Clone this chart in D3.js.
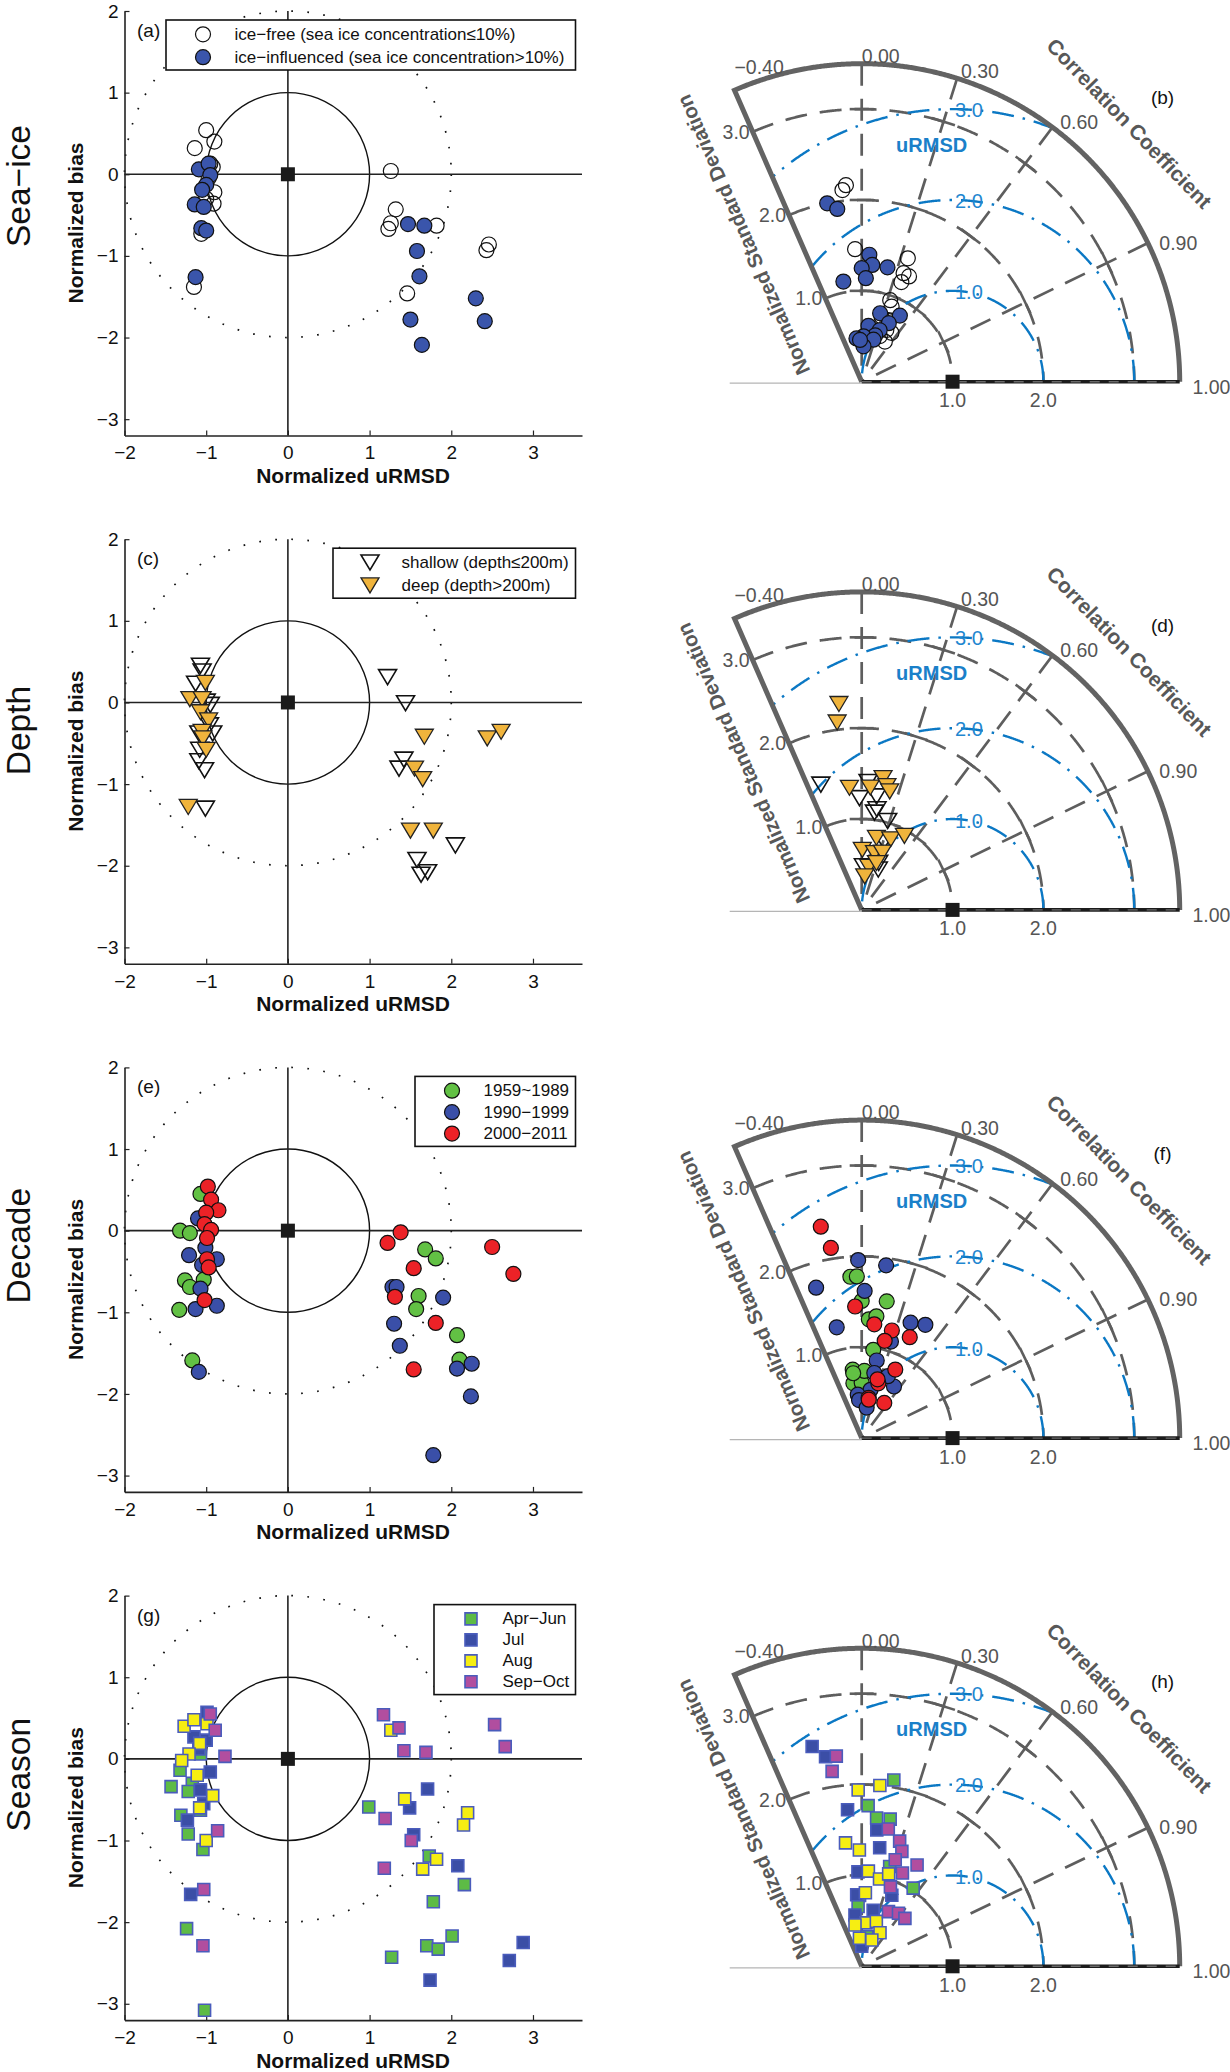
<!DOCTYPE html>
<html>
<head>
<meta charset="utf-8">
<script src="https://cdn.jsdelivr.net/npm/d3@7"></script>
<style>
  body { margin: 0; background: #fff; }
  text { font-family: "Liberation Sans", Arial, Helvetica, sans-serif; }
</style>
</head>
<body>
<svg id="fig" width="1230" height="2072"></svg>
<script>
// ---------------------------------------------------------------------------
// Data
// ---------------------------------------------------------------------------

const rowNames = ["Sea\u2212ice", "Depth", "Decade", "Season"];
const panelTags = [["(a)", "(b)"], ["(c)", "(d)"], ["(e)", "(f)"], ["(g)", "(h)"]];

// axis ticks
const urmsdTicks = [-2, -1, 0, 1, 2, 3];
const biasTicks = [-3, -2, -1, 0, 1, 2];
const corrTicks = [-0.4, 0, 0.3, 0.6, 0.9, 1.0];
const corrTickLabels = ["\u22120.40", "0.00", "0.30", "0.60", "0.90", "1.00"];
const stdTicks = [1, 2, 3];
const stdAxisTicks = [1, 2];
const rmsLevels = [1, 2, 3];

// legend labels
const seaIceLabels = ["ice\u2212free (sea ice concentration\u226410%)", "ice\u2212influenced (sea ice concentration>10%)"];
const depthLabels = ["shallow (depth\u2264200m)", "deep (depth>200m)"];
const decadeLabels = ["1959~1989", "1990\u22121999", "2000\u22122011"];
const seasonLabels = ["Apr\u2212Jun", "Jul", "Aug", "Sep\u2212Oct"];

// target diagrams: [normalized uRMSD, normalized bias]
const iceFreeTarget = [[-1.00,0.54],[-0.90,0.40],[-1.14,0.32],[-0.95,0.13],[-0.92,0.09],[-0.97,-0.05],[-0.90,-0.22],[-1.00,-0.30],[-0.91,-0.36],[-1.06,-0.73],[-1.15,-1.38],[1.26,0.04],[1.32,-0.43],[1.26,-0.60],[1.23,-0.67],[1.82,-0.63],[1.46,-1.46],[2.46,-0.86],[2.43,-0.93]];
const iceInfluencedTarget = [[-1.09,0.06],[-0.97,0.13],[-0.95,-0.01],[-1.00,-0.13],[-1.05,-0.19],[-1.14,-0.37],[-1.03,-0.40],[-1.06,-0.66],[-1.00,-0.69],[-1.13,-1.26],[1.47,-0.61],[1.67,-0.63],[1.58,-0.94],[1.61,-1.25],[1.50,-1.78],[1.64,-2.09],[2.30,-1.52],[2.41,-1.80]];

const shallowTarget = [[-1.07,0.45],[-1.05,0.38],[-1.13,0.23],[-1.00,0.01],[-0.95,-0.03],[-0.96,-0.28],[-0.92,-0.38],[-1.09,-0.38],[-1.08,-0.58],[-1.09,-0.72],[-1.02,-0.83],[-1.01,-1.30],[1.22,0.31],[1.44,-0.01],[1.42,-0.70],[1.36,-0.81],[2.05,-1.75],[1.58,-1.93],[1.63,-2.11],[1.71,-2.08]];
const deepTarget = [[-1.01,0.24],[-1.20,0.04],[-1.05,0.04],[-1.07,-0.12],[-0.97,-0.22],[-1.05,-0.36],[-1.04,-0.44],[-1.00,-0.58],[-1.22,-1.28],[1.67,-0.42],[2.44,-0.44],[2.61,-0.36],[1.55,-0.81],[1.65,-0.94],[1.50,-1.57],[1.78,-1.57]];

const decade1Target = [[-1.07,0.45],[-1.32,0.00],[-1.20,-0.03],[-1.26,-0.61],[-1.20,-0.69],[-1.03,-0.60],[-1.33,-0.97],[-1.17,-1.59],[1.68,-0.23],[1.81,-0.34],[1.60,-0.80],[1.57,-0.96],[2.07,-1.28],[2.10,-1.58]];
const decade2Target = [[-1.10,0.15],[-1.21,-0.30],[-1.01,-0.21],[-1.05,-0.42],[-0.87,-0.35],[-1.07,-0.71],[-1.13,-0.96],[-0.87,-0.92],[-1.09,-1.73],[1.28,-0.69],[1.33,-0.69],[1.90,-0.82],[1.30,-1.14],[1.37,-1.41],[2.07,-1.69],[2.25,-1.63],[2.24,-2.03],[1.78,-2.75]];
const decade3Target = [[-0.98,0.54],[-0.94,0.38],[-0.85,0.25],[-1.00,0.22],[-1.02,0.08],[-0.94,0.01],[-0.99,-0.09],[-0.99,-0.35],[-0.97,-0.45],[-1.02,-0.85],[1.38,-0.02],[1.22,-0.15],[1.54,-0.46],[1.31,-0.81],[1.81,-1.13],[1.54,-1.70],[2.50,-0.20],[2.76,-0.53]];

const aprJunTarget = [[-1.32,-0.14],[-1.43,-0.34],[-1.17,-0.30],[-1.22,-0.40],[-1.07,-0.63],[-1.31,-0.69],[-1.22,-0.92],[-1.04,-1.11],[-1.24,-2.08],[-1.02,-3.08],[-1.07,0.06],[0.99,-0.59],[1.73,-1.19],[2.16,-1.54],[1.78,-1.75],[2.01,-2.17],[1.70,-2.29],[1.84,-2.33],[1.27,-2.43]];
const julTarget = [[-0.99,0.57],[-1.15,0.27],[-1.00,0.23],[-1.09,0.12],[-0.95,-0.16],[-1.07,-0.38],[-1.03,-0.55],[-1.23,-0.75],[-1.19,-1.66],[1.71,-0.37],[1.49,-0.60],[1.54,-0.93],[2.08,-1.31],[2.88,-2.25],[2.71,-2.47],[1.74,-2.71]];
const augTarget = [[-1.27,0.40],[-1.15,0.48],[-0.99,0.43],[-1.08,0.19],[-1.21,0.06],[-1.30,-0.02],[-1.11,-0.20],[-0.92,-0.45],[-1.08,-0.60],[-1.00,-1.00],[1.26,0.35],[1.43,-0.49],[2.20,-0.66],[2.15,-0.81],[1.82,-1.23],[1.65,-1.35]];
const sepOctTarget = [[-0.95,0.55],[-0.89,0.35],[-0.77,0.03],[-0.86,-0.88],[-1.03,-1.60],[-1.04,-2.29],[1.17,0.54],[1.36,0.38],[1.42,0.10],[1.69,0.08],[1.19,-0.73],[1.51,-1.00],[1.18,-1.34],[2.53,0.42],[2.66,0.15]];

// Taylor diagrams: [normalized standard deviation, correlation coefficient]
const iceFreeTaylor = [[2.12,-0.10],[2.17,-0.08],[1.46,-0.05],[1.45,0.35],[1.28,0.36],[1.27,0.41],[1.18,0.37],[0.95,0.33],[0.89,0.37],[0.75,0.29],[0.74,0.40],[0.63,0.43],[0.63,0.52],[0.51,0.50],[0.54,0.37]];
const iceInfluencedTaylor = [[2.00,-0.19],[1.92,-0.14],[1.40,0.06],[1.29,0.09],[1.25,0.00],[1.29,0.22],[1.14,0.04],[1.12,-0.18],[0.78,0.26],[0.84,0.50],[0.71,0.42],[0.62,0.12],[0.60,0.33],[0.53,0.28],[0.50,0.04],[0.48,0.27],[0.48,-0.12],[0.39,0.05],[0.46,-0.04]];

const shallowTaylor = [[1.45,-0.31],[1.23,-0.02],[1.41,0.05],[1.26,0.13],[1.12,0.15],[1.02,0.28],[1.08,0.13],[0.79,0.31],[0.55,0.34],[0.48,0.04],[0.48,0.38]];
const deepTaylor = [[2.28,-0.11],[2.08,-0.13],[1.35,-0.10],[1.35,0.07],[1.47,0.16],[1.39,0.20],[1.34,0.23],[0.81,0.20],[0.84,0.38],[0.94,0.50],[0.66,0.01],[0.64,0.22],[0.67,0.34],[0.48,0.16],[0.54,0.30],[0.37,0.09]];

const decade1Taylor = [[1.78,-0.07],[1.78,-0.03],[1.51,0.00],[1.53,0.18],[1.31,0.06],[1.35,0.12],[0.98,0.13],[0.76,-0.13],[0.61,-0.15],[0.61,0.00],[0.74,0.04],[0.72,-0.13]];
const decade2Taylor = [[1.96,-0.02],[1.92,0.14],[1.73,-0.29],[1.62,0.02],[1.25,-0.22],[1.38,0.39],[1.43,0.49],[1.11,0.29],[0.87,0.19],[0.73,0.19],[0.67,0.53],[0.74,0.39],[0.54,0.18],[0.48,-0.09],[0.42,-0.07],[0.34,0.16]];
const decade3Taylor = [[2.37,-0.19],[2.12,-0.16],[1.45,-0.05],[1.26,0.11],[1.23,0.27],[1.10,0.23],[1.23,0.43],[0.63,0.29],[0.67,0.26],[0.84,0.44],[0.46,0.54],[0.45,0.17],[0.43,0.18]];

const aprJunTaylor = [[2.08,0.17],[1.77,0.04],[1.64,0.10],[1.65,0.19],[1.03,0.55],[0.78,-0.03],[0.66,-0.06],[0.33,0.17],[1.14,0.27]];
const julTaylor = [[2.48,-0.22],[2.34,-0.17],[1.73,-0.09],[1.32,0.15],[1.04,-0.04],[0.79,-0.07],[1.51,0.11],[0.57,-0.13],[0.22,0.00],[0.85,0.39],[0.63,0.20]];
const augTaylor = [[1.94,-0.02],[2.00,0.10],[1.37,-0.13],[1.28,-0.02],[1.05,0.07],[0.98,0.20],[1.06,0.28],[0.81,0.05],[0.48,0.10],[0.52,0.31],[0.46,-0.16],[0.42,0.48],[0.31,-0.08],[0.31,0.36]];
const sepOctTaylor = [[2.33,-0.12],[2.17,-0.15],[1.54,0.19],[1.44,0.29],[1.34,0.33],[1.23,0.30],[1.27,0.48],[1.12,0.40],[0.93,0.34],[0.67,0.44],[0.71,0.57],[0.71,0.67]];

// ---------------------------------------------------------------------------
// Marker shapes and row settings
// ---------------------------------------------------------------------------

const triangleDown = {
  draw(ctx) {
    ctx.moveTo(-9, -7.5);
    ctx.lineTo(9, -7.5);
    ctx.lineTo(0, 7.5);
    ctx.closePath();
  }
};

const shapes = {
  circle: d3.symbol(d3.symbolCircle, Math.PI * 7.5 * 7.5),
  triangle: d3.symbol(triangleDown),
  square: d3.symbol(d3.symbolSquare, 12 * 12)
};

const rows = [
  { shape: "circle", legendLeft: 166, groups: [
    { label: seaIceLabels[0], target: iceFreeTarget, taylor: iceFreeTaylor, fill: "none", stroke: "#111", sw: 1.2 },
    { label: seaIceLabels[1], target: iceInfluencedTarget, taylor: iceInfluencedTaylor, fill: "#3a55ab", stroke: "#111", sw: 1.2 }
  ]},
  { shape: "triangle", legendLeft: 333, groups: [
    { label: depthLabels[0], target: shallowTarget, taylor: shallowTaylor, fill: "none", stroke: "#111", sw: 1.6 },
    { label: depthLabels[1], target: deepTarget, taylor: deepTaylor, fill: "#f0b43c", stroke: "#222", sw: 1.3 }
  ]},
  { shape: "circle", legendLeft: 415, groups: [
    { label: decadeLabels[0], target: decade1Target, taylor: decade1Taylor, fill: "#62c144", stroke: "#111", sw: 1.2 },
    { label: decadeLabels[1], target: decade2Target, taylor: decade2Taylor, fill: "#3a4fa8", stroke: "#111", sw: 1.2 },
    { label: decadeLabels[2], target: decade3Target, taylor: decade3Taylor, fill: "#ec2227", stroke: "#111", sw: 1.2 }
  ]},
  { shape: "square", legendLeft: 434, groups: [
    { label: seasonLabels[0], target: aprJunTarget, taylor: aprJunTaylor, fill: "#5dbb45", stroke: "#4a5cbc", sw: 1.6 },
    { label: seasonLabels[1], target: julTarget, taylor: julTaylor, fill: "#3b4ea6", stroke: "#4a5cbc", sw: 1.6 },
    { label: seasonLabels[2], target: augTarget, taylor: augTaylor, fill: "#f6ee12", stroke: "#4a5cbc", sw: 1.6 },
    { label: seasonLabels[3], target: sepOctTarget, taylor: sepOctTaylor, fill: "#b14e9f", stroke: "#4a5cbc", sw: 1.6 }
  ]}
];

const ROW_STEP = 528.2;
const GREY = "#5e5e5e";
const BLUE = "#0b78c4";

const svg = d3.select("#fig");

/**
 * Draw a set of markers
 */
function drawMarkers(g, pts, grp, shape, toXY)
{
  g.append("g").selectAll("path")
    .data(pts)
    .join("path")
    .attr("transform", d => `translate(${toXY(d)})`)
    .attr("d", shapes[shape]())
    .attr("fill", grp.fill)
    .attr("stroke", grp.stroke)
    .attr("stroke-width", grp.sw);
}

/**
 * Target diagram (normalized uRMSD vs normalized bias)
 */
function drawTarget(g, row, i)
{
  const x = d3.scaleLinear([-2, 3.6], [124.5, 582]);
  const y = d3.scaleLinear([-3.2, 2], [435.5, 11]);

  // row title
  g.append("text")
    .attr("transform", "translate(30,247) rotate(-90)")
    .attr("font-size", 33.5)
    .attr("fill", "#111")
    .text(rowNames[i]);

  // reference circles: dotted radius 2, solid radius 1
  g.append("ellipse")
    .attr("cx", x(0)).attr("cy", y(0))
    .attr("rx", x(2) - x(0)).attr("ry", y(0) - y(2))
    .attr("fill", "none").attr("stroke", "#111")
    .attr("stroke-width", 1.7).attr("stroke-dasharray", "1.7,14.4");
  g.append("ellipse")
    .attr("cx", x(0)).attr("cy", y(0))
    .attr("rx", x(1) - x(0)).attr("ry", y(0) - y(1))
    .attr("fill", "none").attr("stroke", "#111").attr("stroke-width", 1.4);

  // zero lines
  g.append("line")
    .attr("x1", x(0)).attr("x2", x(0)).attr("y1", y(-3.2)).attr("y2", y(2))
    .attr("stroke", "#222").attr("stroke-width", 1.6);
  g.append("line")
    .attr("x1", x(-2)).attr("x2", x(3.6)).attr("y1", y(0)).attr("y2", y(0))
    .attr("stroke", "#222").attr("stroke-width", 1.6);

  // axes
  const fmt = d3.format("d");
  const ax = g.append("g")
    .attr("transform", `translate(0,${y(-3.2)})`)
    .call(d3.axisBottom(x).tickValues(urmsdTicks).tickFormat(fmt)
      .tickSize(-5).tickSizeOuter(0).tickPadding(10.5));
  const ay = g.append("g")
    .attr("transform", `translate(${x(-2)},0)`)
    .call(d3.axisLeft(y).tickValues(biasTicks).tickFormat(fmt)
      .tickSize(-5).tickSizeOuter(0).tickPadding(6));
  [ax, ay].forEach(a => {
    a.attr("font-family", null).attr("font-size", 19);
    a.select(".domain").attr("stroke", "#222").attr("stroke-width", 1.6);
    a.selectAll(".tick line").attr("stroke", "#222").attr("stroke-width", 1.2);
    a.selectAll(".tick text").attr("fill", "#111");
  });

  // axis titles
  g.append("text")
    .attr("transform", "translate(83,223) rotate(-90)")
    .attr("text-anchor", "middle").attr("font-size", 21).attr("font-weight", "bold")
    .attr("fill", "#111")
    .text("Normalized bias");
  g.append("text")
    .attr("x", 353).attr("y", 483)
    .attr("text-anchor", "middle").attr("font-size", 21).attr("font-weight", "bold")
    .attr("fill", "#111")
    .text("Normalized uRMSD");

  // panel tag
  g.append("text")
    .attr("x", 137).attr("y", 37).attr("font-size", 19).attr("fill", "#111")
    .text(panelTags[i][0]);

  // data
  row.groups.forEach(grp => drawMarkers(g, grp.target, grp, row.shape, d => [x(d[0]), y(d[1])]));

  // reference point
  g.append("rect")
    .attr("x", x(0) - 7).attr("y", y(0) - 7).attr("width", 14).attr("height", 14)
    .attr("fill", "#1a1a1a");

  // legend
  const n = row.groups.length;
  const top = 20, h = 20 * n + 10, right = 575.5;
  const lg = g.append("g");
  lg.append("rect")
    .attr("x", row.legendLeft).attr("y", top)
    .attr("width", right - row.legendLeft).attr("height", h)
    .attr("fill", "#fff").attr("stroke", "#111").attr("stroke-width", 1.6);
  const ly = d3.scaleLinear([0, n - 1], [top + 14.3, top + h - 12.8]);
  row.groups.forEach((grp, j) => {
    drawMarkers(lg, [[row.legendLeft + 37, ly(j)]], grp, row.shape, d => d);
    lg.append("text")
      .attr("x", row.legendLeft + 68.5).attr("y", ly(j))
      .attr("dominant-baseline", "central")
      .attr("font-size", 17).attr("fill", "#111")
      .text(grp.label);
  });
}

/**
 * Taylor diagram (normalized standard deviation and correlation)
 */
function drawTaylor(g, row, i)
{
  const ox = 861.7, oy = 381.7, rMax = 3.5;
  const r = d3.scaleLinear([0, rMax], [0, 318]);
  const ang = c => Math.PI / 2 - Math.acos(c);          // angle from 12 o'clock
  const polar = (rad, a) => [ox + rad * Math.sin(a), oy - rad * Math.cos(a)];
  const toXY = ([sd, c]) => polar(r(sd), ang(c));
  const fromStd = (u, v) => [ox + r(u), oy - r(v)];

  const aMin = ang(corrTicks[0]);
  const sweep = d3.range(aMin, Math.PI / 2, 0.004).concat([Math.PI / 2]);
  const arc = rad => d3.line()(sweep.map(a => polar(rad, a)));

  // standard deviation arcs
  stdTicks.forEach(s => {
    g.append("path")
      .attr("d", arc(r(s)))
      .attr("fill", "none").attr("stroke", GREY)
      .attr("stroke-width", 2.7).attr("stroke-dasharray", "22,13");
  });

  // correlation rays with tick marks at each std level
  corrTicks.filter(c => c >= 0 && c < 1).forEach(c => {
    const a = ang(c);
    const rim = polar(r(rMax), a);
    g.append("line")
      .attr("x1", rim[0]).attr("y1", rim[1]).attr("x2", ox).attr("y2", oy)
      .attr("stroke", GREY).attr("stroke-width", 2.7).attr("stroke-dasharray", "22,13");
    stdTicks.forEach(s => {
      const [cx, cy] = polar(r(s), a);
      const px = Math.cos(a) * 12, py = Math.sin(a) * 12;
      g.append("line")
        .attr("x1", cx - px).attr("y1", cy - py).attr("x2", cx + px).attr("y2", cy + py)
        .attr("stroke", GREY).attr("stroke-width", 2.6);
    });
  });

  // uRMSD circles centred on the reference point (1, 0)
  rmsLevels.forEach(rho => {
    const pts = d3.range(0, Math.PI + 1e-9, 0.003)
      .map(p => [1 + rho * Math.cos(p), rho * Math.sin(p)])
      .filter(([u, v]) => Math.hypot(u, v) <= rMax && Math.atan2(v, u) <= Math.acos(corrTicks[0]));
    g.append("path")
      .attr("d", d3.line()(pts.map(([u, v]) => fromStd(u, v))))
      .attr("fill", "none").attr("stroke", BLUE)
      .attr("stroke-width", 2.4).attr("stroke-dasharray", "22,9,2.5,9");
  });

  // faint line left of the origin
  g.append("line")
    .attr("x1", ox - 132).attr("x2", ox).attr("y1", oy + 1.5).attr("y2", oy + 1.5)
    .attr("stroke", "#b5b5b5").attr("stroke-width", 1.2);

  // frame: left axis + outer arc
  const framePts = [[ox, oy]].concat(sweep.map(a => polar(r(rMax), a)));
  g.append("path")
    .attr("d", d3.line()(framePts))
    .attr("fill", "none").attr("stroke", "#636363")
    .attr("stroke-width", 5).attr("stroke-linejoin", "miter");

  // correlation = 1 axis
  g.append("line")
    .attr("x1", ox).attr("x2", ox + r(rMax)).attr("y1", oy).attr("y2", oy)
    .attr("stroke", "#1c1c1c").attr("stroke-width", 3.6);
  g.append("line")
    .attr("x1", ox).attr("x2", ox + r(rMax)).attr("y1", oy).attr("y2", oy)
    .attr("stroke", "#6a6a6a").attr("stroke-width", 1.4).attr("stroke-dasharray", "10,9");

  // data
  row.groups.forEach(grp => drawMarkers(g, grp.taylor, grp, row.shape, toXY));

  // reference point
  g.append("rect")
    .attr("x", ox + r(1) - 7).attr("y", oy - 7).attr("width", 14).attr("height", 14)
    .attr("fill", "#1a1a1a");

  // correlation labels
  corrTicks.forEach((c, k) => {
    const [lx, ly] = polar(r(3.64), ang(c));
    g.append("text")
      .attr("x", c < 0 ? lx + 5 : lx).attr("y", c < 0 ? ly - 12 : ly + 5)
      .attr("dominant-baseline", "central")
      .attr("font-size", 19.5).attr("fill", "#555")
      .text(corrTickLabels[k]);
  });

  // std labels along the left axis and the bottom axis
  stdTicks.forEach(s => {
    const [lx, ly] = toXY([s, corrTicks[0]]);
    g.append("text")
      .attr("x", lx - 3).attr("y", ly)
      .attr("text-anchor", "end").attr("dominant-baseline", "central")
      .attr("font-size", 19.5).attr("fill", "#555")
      .text(d3.format(".1f")(s));
  });
  stdAxisTicks.forEach(s => {
    g.append("text")
      .attr("x", ox + r(s)).attr("y", oy + 18.5)
      .attr("text-anchor", "middle").attr("dominant-baseline", "central")
      .attr("font-size", 19.5).attr("fill", "#555")
      .text(d3.format(".1f")(s));
  });

  // uRMSD labels
  rmsLevels.forEach(rho => {
    const [lx, ly] = fromStd(1.18, Math.sqrt(rho * rho - 0.18 * 0.18));
    g.append("text")
      .attr("x", lx).attr("y", ly)
      .attr("text-anchor", "middle").attr("dominant-baseline", "central")
      .attr("font-size", 20).attr("fill", "#1f87d0")
      .text(d3.format(".1f")(rho));
  });
  const [ux, uy] = fromStd(0.77, 2.61);
  g.append("text")
    .attr("x", ux).attr("y", uy)
    .attr("text-anchor", "middle").attr("dominant-baseline", "central")
    .attr("font-size", 20).attr("font-weight", "bold").attr("fill", "#1a80c9")
    .text("uRMSD");

  // axis titles
  const ccAngle = 44 * Math.PI / 180;
  g.append("text")
    .attr("transform", `translate(${ox + 372 * Math.cos(ccAngle)},${oy - 372 * Math.sin(ccAngle)}) rotate(46)`)
    .attr("text-anchor", "middle").attr("dominant-baseline", "central")
    .attr("font-size", 21).attr("font-weight", "bold").attr("fill", "#585858")
    .text("Correlation Coefficient");

  const c0 = corrTicks[0], s0 = Math.sqrt(1 - c0 * c0);
  const nx = ox + 182 * c0 - 50 * s0, ny = oy - 182 * s0 - 50 * c0;
  const rot = Math.atan2(-s0, c0) * 180 / Math.PI;
  g.append("text")
    .attr("transform", `translate(${nx},${ny}) rotate(${rot})`)
    .attr("text-anchor", "middle").attr("dominant-baseline", "central")
    .attr("font-size", 20.5).attr("font-weight", "bold").attr("fill", "#585858")
    .text("Normalized Standard Deviation");

  // panel tag
  g.append("text")
    .attr("x", 1162.5).attr("y", 97)
    .attr("text-anchor", "middle").attr("dominant-baseline", "central")
    .attr("font-size", 19).attr("fill", "#111")
    .text(panelTags[i][1]);
}

rows.forEach((row, i) => {
  const g = svg.append("g").attr("transform", `translate(0,${i * ROW_STEP})`);
  drawTarget(g, row, i);
  drawTaylor(g, row, i);
});
</script>
</body>
</html>
